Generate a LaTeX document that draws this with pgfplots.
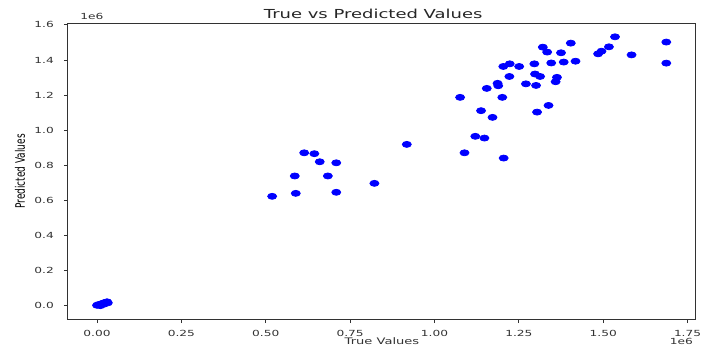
\documentclass[border=0pt]{standalone}
\usepackage{pgfplots}
\pgfplotsset{compat=1.18}
\usepackage{fontspec}
\setmainfont{DejaVu Sans}
\definecolor{mplblue}{RGB}{0,0,255}
\definecolor{axgray}{RGB}{50,50,50}
\newcommand{\tickfont}{\fontsize{4.2}{5}\selectfont}
\newcommand{\labfont}{\fontsize{4.5}{5.5}\selectfont}
\newcommand{\titfont}{\fontsize{6.2}{7.5}\selectfont}
\begin{document}
\begin{tikzpicture}
\begin{axis}[
  scale only axis,
  width=314pt, height=147.5pt,
  at={(0,0)}, anchor=south west,
  xmin=-0.086, xmax=1.775,
  ymin=-0.076, ymax=1.605,
  axis line style={axgray, line width=0.5pt},
  tick style={axgray, line width=0.4pt},
  tick align=outside,
  major tick length=2pt,
  xtick pos=bottom, ytick pos=left,
  xtick={0,0.25,0.5,0.75,1,1.25,1.5,1.75},
  xticklabels={0.00,0.25,0.50,0.75,1.00,1.25,1.50,1.75},
  ytick={0,0.2,0.4,0.6,0.8,1,1.2,1.4,1.6},
  yticklabels={0.0,0.2,0.4,0.6,0.8,1.0,1.2,1.4,1.6},
  scaled ticks=false,
  /pgf/number format/assume math mode=true,
  xticklabel style={font=\tickfont, text=axgray, xscale=1.45},
  yticklabel style={font=\tickfont, text=axgray, xscale=1.45},
  xlabel={True Values},
  xlabel style={font=\labfont, text=axgray, at={(axis description cs:0.5,-0.075)}, anchor=center, xscale=1.45},
  ylabel={Predicted Values},
  ylabel style={font=\labfont, text=black, at={(axis description cs:-0.0764,0.5)}, anchor=center, rotate=0, yscale=1.45},
  clip=false,
]
\addplot[only marks, mark=*, mark size=1.5pt, color=mplblue, mark options={xscale=1.5, fill=mplblue, draw=mplblue}] coordinates {
(0.000,0.002) (0.004,0.006) (0.008,0.004) (0.012,0.010) (0.016,0.012)
(0.020,0.015) (0.024,0.018) (0.028,0.020) (0.032,0.016) (0.030,0.022)
(0.010,0.000) (0.020,0.008)
(0.614,0.871) (0.644,0.866) (0.660,0.820) (0.709,0.814) (0.586,0.739)
(0.684,0.739) (0.822,0.697) (0.519,0.623) (0.589,0.640) (0.709,0.646)
(0.918,0.919) (1.076,1.187) (1.089,0.871) (1.121,0.965) (1.148,0.955)
(1.138,1.111) (1.172,1.073) (1.155,1.238) (1.187,1.267) (1.189,1.253)
(1.201,1.187) (1.205,0.841) (1.204,1.363) (1.223,1.378) (1.222,1.306)
(1.251,1.363) (1.271,1.264) (1.296,1.378) (1.298,1.320) (1.313,1.306)
(1.301,1.255) (1.304,1.103) (1.321,1.473) (1.334,1.445) (1.338,1.141)
(1.346,1.383) (1.359,1.276) (1.363,1.301) (1.375,1.441) (1.383,1.388)
(1.404,1.496) (1.418,1.393) (1.485,1.435) (1.495,1.450) (1.517,1.475)
(1.535,1.532) (1.584,1.429) (1.687,1.502) (1.687,1.382)
};
\node[font=\titfont, text=black!85, xscale=1.45] at (rel axis cs:0.486,1.034) {True vs Predicted Values};
\node[font=\tickfont, text=axgray, xscale=1.45] at (rel axis cs:0.0382,1.0254) {1e6};
\node[font=\tickfont, text=axgray, xscale=1.45] at (rel axis cs:0.9769,-0.0763) {1e6};
\end{axis}
\pgfresetboundingbox
\path[use as bounding box] (-34pt,-15pt) rectangle (322.5pt,159.5pt);
\end{tikzpicture}
\end{document}
